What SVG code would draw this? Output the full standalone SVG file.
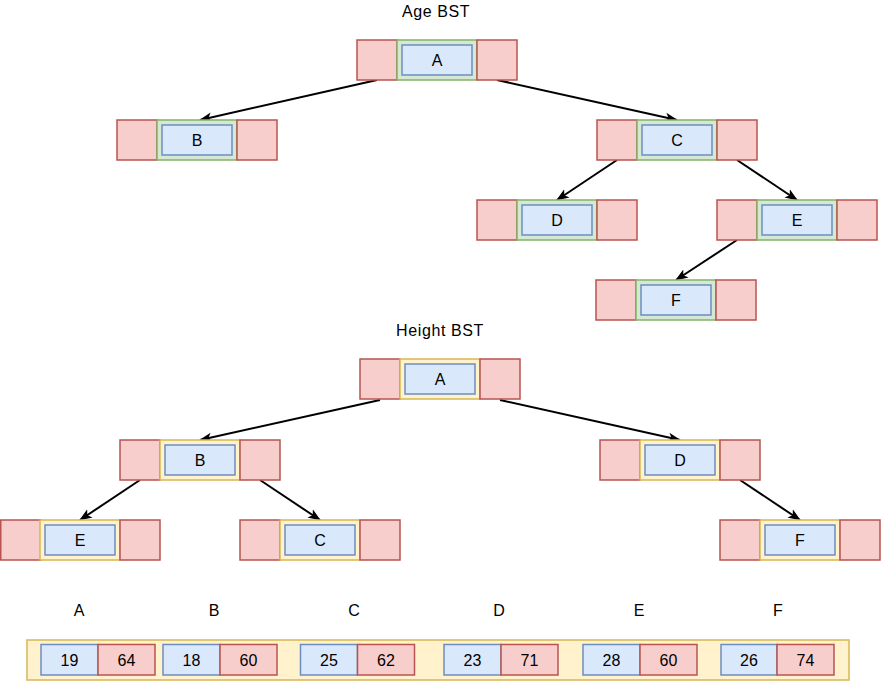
<svg xmlns="http://www.w3.org/2000/svg" width="882" height="683" viewBox="0 0 882 683">
<defs>
<style>
text{font-family:"Liberation Sans",Arial,Helvetica,sans-serif;font-size:16px;fill:#000;text-anchor:middle;dominant-baseline:central}
.t{letter-spacing:0.6px}
.r{fill:#f8cecc;stroke:#b85450;stroke-width:1.5}
.b{fill:#dae8fc;stroke:#6c8ebf;stroke-width:1.5}
.g{fill:#d5e8d4;stroke:#82b366;stroke-width:1.5}
.y{fill:#fff2cc;stroke:#d6b656;stroke-width:1.5}
.e{fill:none;stroke:#000;stroke-width:2;marker-end:url(#ah)}
</style>
<marker id="ah" viewBox="0 0 12 10" refX="11" refY="5" markerWidth="13" markerHeight="11" markerUnits="userSpaceOnUse" orient="auto">
<path d="M0,0.5 L12,5 L0,9.5 L3,5 Z" fill="#000"/>
</marker>
</defs>
<rect width="882" height="683" fill="#fff"/>
<text class="t" x="436" y="11">Age BST</text>
<text class="t" x="440" y="330">Height BST</text>

<g id="connectors">
<line class="e" x1="377" y1="80" x2="200" y2="120"/>
<line class="e" x1="497" y1="80" x2="677" y2="120"/>
<line class="e" x1="617" y1="160" x2="557" y2="200"/>
<line class="e" x1="737" y1="160" x2="797" y2="200"/>
<line class="e" x1="737" y1="240" x2="676" y2="280"/>
<line class="e" x1="380" y1="400" x2="200" y2="440"/>
<line class="e" x1="500" y1="400" x2="680" y2="440"/>
<line class="e" x1="140" y1="480" x2="80" y2="520"/>
<line class="e" x1="260" y1="480" x2="320" y2="520"/>
<line class="e" x1="740" y1="480" x2="800" y2="520"/>
</g>

<!-- Age BST -->
<g id="age-A"><rect class="r" x="357" y="40" width="40" height="40"/><rect class="g" x="397" y="40" width="80" height="40"/><rect class="r" x="477" y="40" width="40" height="40"/><rect class="b" x="402" y="45" width="70" height="30"/><text x="437" y="60">A</text></g>
<g id="age-B"><rect class="r" x="117" y="120" width="40" height="40"/><rect class="g" x="157" y="120" width="80" height="40"/><rect class="r" x="237" y="120" width="40" height="40"/><rect class="b" x="162" y="125" width="70" height="30"/><text x="197" y="140">B</text></g>
<g id="age-C"><rect class="r" x="597" y="120" width="40" height="40"/><rect class="g" x="637" y="120" width="80" height="40"/><rect class="r" x="717" y="120" width="40" height="40"/><rect class="b" x="642" y="125" width="70" height="30"/><text x="677" y="140">C</text></g>
<g id="age-D"><rect class="r" x="477" y="200" width="40" height="40"/><rect class="g" x="517" y="200" width="80" height="40"/><rect class="r" x="597" y="200" width="40" height="40"/><rect class="b" x="522" y="205" width="70" height="30"/><text x="557" y="220">D</text></g>
<g id="age-E"><rect class="r" x="717" y="200" width="40" height="40"/><rect class="g" x="757" y="200" width="80" height="40"/><rect class="r" x="837" y="200" width="40" height="40"/><rect class="b" x="762" y="205" width="70" height="30"/><text x="797" y="220">E</text></g>
<g id="age-F"><rect class="r" x="596" y="280" width="40" height="40"/><rect class="g" x="636" y="280" width="80" height="40"/><rect class="r" x="716" y="280" width="40" height="40"/><rect class="b" x="641" y="285" width="70" height="30"/><text x="676" y="300">F</text></g>

<!-- Height BST -->
<g id="h-A"><rect class="r" x="360" y="359" width="40" height="40"/><rect class="y" x="400" y="359" width="80" height="40"/><rect class="r" x="480" y="359" width="40" height="40"/><rect class="b" x="405" y="364" width="70" height="30"/><text x="440" y="379">A</text></g>
<g id="h-B"><rect class="r" x="120" y="440" width="40" height="40"/><rect class="y" x="160" y="440" width="80" height="40"/><rect class="r" x="240" y="440" width="40" height="40"/><rect class="b" x="165" y="445" width="70" height="30"/><text x="200" y="460">B</text></g>
<g id="h-D"><rect class="r" x="600" y="440" width="40" height="40"/><rect class="y" x="640" y="440" width="80" height="40"/><rect class="r" x="720" y="440" width="40" height="40"/><rect class="b" x="645" y="445" width="70" height="30"/><text x="680" y="460">D</text></g>
<g id="h-E"><rect class="r" x="0.75" y="520" width="40" height="40"/><rect class="y" x="40" y="520" width="80" height="40"/><rect class="r" x="120" y="520" width="40" height="40"/><rect class="b" x="45" y="525" width="70" height="30"/><text x="80" y="540">E</text></g>
<g id="h-C"><rect class="r" x="240" y="520" width="40" height="40"/><rect class="y" x="280" y="520" width="80" height="40"/><rect class="r" x="360" y="520" width="40" height="40"/><rect class="b" x="285" y="525" width="70" height="30"/><text x="320" y="540">C</text></g>
<g id="h-F"><rect class="r" x="720" y="520" width="40" height="40"/><rect class="y" x="760" y="520" width="80" height="40"/><rect class="r" x="840" y="520" width="40" height="40"/><rect class="b" x="765" y="525" width="70" height="30"/><text x="800" y="540">F</text></g>

<!-- Table -->
<g id="table">
<rect class="y" x="27" y="640" width="822" height="40"/>
<text x="79" y="610">A</text>
<text x="214" y="610">B</text>
<text x="354" y="610">C</text>
<text x="499" y="610">D</text>
<text x="639" y="610">E</text>
<text x="778" y="610">F</text>
<rect class="b" x="41" y="644.5" width="57" height="30.5"/><rect class="r" x="98" y="644.5" width="57" height="30.5"/>
<text x="69.5" y="660">19</text><text x="126.5" y="660">64</text>
<rect class="b" x="163" y="644.5" width="57" height="30.5"/><rect class="r" x="220" y="644.5" width="57" height="30.5"/>
<text x="191.5" y="660">18</text><text x="248.5" y="660">60</text>
<rect class="b" x="300.5" y="644.5" width="57" height="30.5"/><rect class="r" x="357.5" y="644.5" width="57" height="30.5"/>
<text x="329" y="660">25</text><text x="386" y="660">62</text>
<rect class="b" x="444" y="644.5" width="57" height="30.5"/><rect class="r" x="501" y="644.5" width="57" height="30.5"/>
<text x="472.5" y="660">23</text><text x="529.5" y="660">71</text>
<rect class="b" x="583" y="644.5" width="57" height="30.5"/><rect class="r" x="640" y="644.5" width="57" height="30.5"/>
<text x="611.5" y="660">28</text><text x="668.5" y="660">60</text>
<rect class="b" x="721" y="644.5" width="56" height="30.5"/><rect class="r" x="777" y="644.5" width="57" height="30.5"/>
<text x="749" y="660">26</text><text x="805.5" y="660">74</text>
</g>
</svg>
